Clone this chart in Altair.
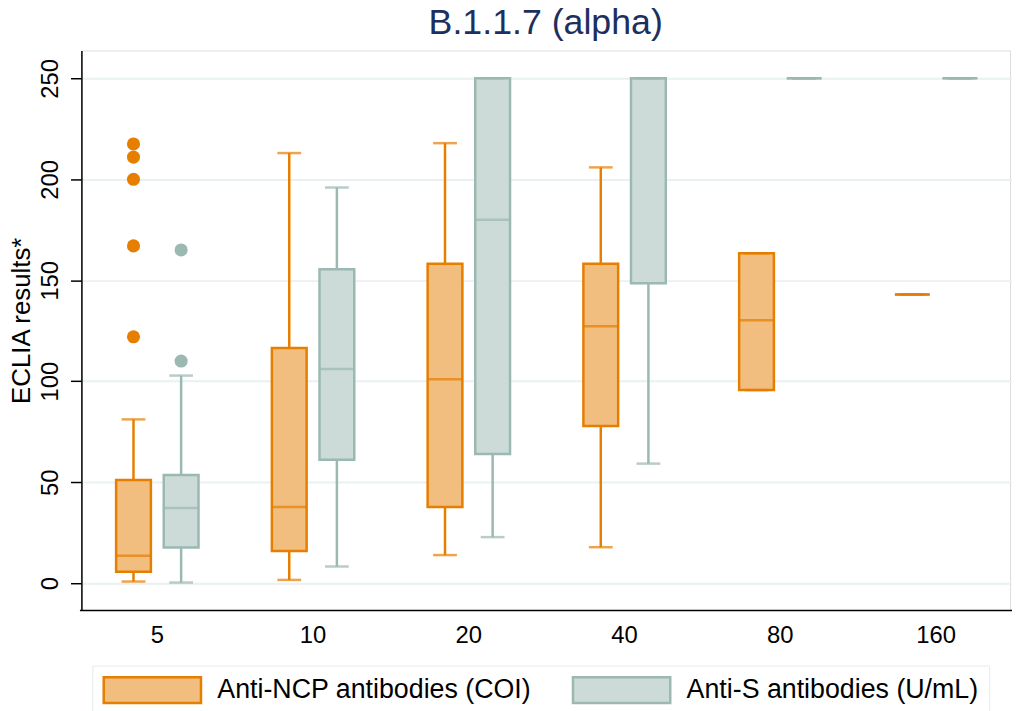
import altair as alt
import pandas as pd

# ---------------- data ----------------
groups = ["5", "10", "20", "40", "80", "160"]
series = ["Anti-NCP antibodies (COI)", "Anti-S antibodies (U/mL)"]
series_code = ["ncp", "s"]

ncp_low = [0.8, 1.6, 13.9, 17.8, 95.6, 143.0]
ncp_q1 = [5.7, 15.9, 37.7, 77.8, 95.6, 143.0]
ncp_median = [13.6, 37.7, 101.0, 127.2, 130.2, 143.0]
ncp_q3 = [51.1, 116.4, 158.2, 158.2, 163.4, 143.0]
ncp_high = [81.1, 213.0, 217.9, 205.9, 163.4, 143.0]

s_low = [0.3, 8.2, 22.8, 59.2, 250.0, 250.0]
s_q1 = [17.7, 61.1, 64.0, 148.5, 250.0, 250.0]
s_median = [37.2, 106.0, 180.0, 250.0, 250.0, 250.0]
s_q3 = [53.6, 155.4, 250.0, 250.0, 250.0, 250.0]
s_high = [102.8, 195.9, 250.0, 250.0, 250.0, 250.0]

ncp_outlier_group = ["5", "5", "5", "5", "5"]
ncp_outliers = [217.5, 211.0, 200.0, 167.0, 122.0]
s_outlier_group = ["5", "5"]
s_outliers = [165.0, 110.0]

y_ticks = [0, 50, 100, 150, 200, 250]

# ---------------- tables ----------------
rows = []
for name, code, lo, q1, md, q3, hi in [
    (series[0], series_code[0], ncp_low, ncp_q1, ncp_median, ncp_q3, ncp_high),
    (series[1], series_code[1], s_low, s_q1, s_median, s_q3, s_high),
]:
    for g, a, b, c, d, e in zip(groups, lo, q1, md, q3, hi):
        rows.append(dict(group=g, series=name, code=code,
                         low=a, q1=b, median=c, q3=d, high=e))
box = pd.DataFrame(rows)

orows = []
for name, code, gs, vals in [(series[0], series_code[0], ncp_outlier_group, ncp_outliers),
                             (series[1], series_code[1], s_outlier_group, s_outliers)]:
    for g, v in zip(gs, vals):
        orows.append(dict(group=g, series=name, code=code, value=v))
outl = pd.DataFrame(orows)

# ---------------- styling ----------------
FONT = "Liberation Sans"
dark = ["#E67E00", "#9BB8B1"]
light = ["#F2BE7F", "#CDDBD8"]
LW = 2.5

x_enc = alt.X(
    "group:N", sort=groups,
    scale=alt.Scale(domain=groups, range=[-2, 940], paddingInner=0, paddingOuter=0),
    axis=alt.Axis(title=None, ticks=False, labelAngle=0, labelFontSize=24,
                  labelPadding=14, labelColor="black", domainColor="black",
                  domainWidth=1.5, grid=False, labelFont=FONT),
)
xo_enc = alt.XOffset("series:N", sort=series,
                     scale=alt.Scale(domain=series, paddingInner=0.27, paddingOuter=0.77))
y_scale = alt.Scale(domain=[-13.3, 263.8], nice=False, zero=False)
y_axis = alt.Axis(values=y_ticks, title="ECLIA results*", labelAngle=270,
                  labelAlign="center", labelBaseline="bottom", labelFontSize=24,
                  labelPadding=8, labelColor="black", tickSize=11, tickColor="black",
                  tickWidth=1.5, domainColor="black", domainWidth=1.5, grid=True,
                  gridColor="#E9F1F3", gridWidth=2, titleFontSize=26,
                  titleFontWeight="normal", titleColor="black",
                  titleAngle=270, titleAlign="center", titleBaseline="alphabetic",
                  titleX=-52, titleY=272,
                  labelFont=FONT, titleFont=FONT)

# separate colour scale (own domain) for lines/points, no legend
col = alt.Color("code:N", scale=alt.Scale(domain=series_code, range=dark), legend=None)

base = alt.Chart(box)

whisk_lo = base.mark_rule(strokeWidth=LW).encode(
    x=x_enc, xOffset=xo_enc,
    y=alt.Y("low:Q", scale=y_scale, axis=y_axis), y2="q1:Q", color=col)
whisk_hi = base.mark_rule(strokeWidth=LW).encode(
    x=x_enc, xOffset=xo_enc, y=alt.Y("q3:Q", scale=y_scale, axis=y_axis), y2="high:Q", color=col)

legend = alt.Legend(
    title=None, orient="none", legendX=11, legendY=620, direction="horizontal",
    symbolType="M-3.77,-1H3.77V1H-3.77Z", symbolSize=676, symbolStrokeWidth=LW,
    symbolOffset=36, labelFontSize=27, labelOffset=51, columnPadding=36, padding=10,
    strokeColor="#E3EBED", fillColor="white", labelFont=FONT, labelColor="black",
    labelLimit=1000,
)

bars = base.mark_bar(strokeWidth=LW).encode(
    x=x_enc, xOffset=xo_enc,
    y=alt.Y("q1:Q", scale=y_scale, axis=y_axis), y2="q3:Q",
    fill=alt.Fill("series:N", scale=alt.Scale(domain=series, range=light), legend=legend),
    stroke=alt.Stroke("series:N", scale=alt.Scale(domain=series, range=dark), legend=legend),
)

medians = base.mark_tick(size=35, thickness=LW).encode(
    x=x_enc, xOffset=xo_enc, y=alt.Y("median:Q", scale=y_scale, axis=y_axis), color=col)
cap_lo = base.mark_tick(size=24, thickness=LW).encode(
    x=x_enc, xOffset=xo_enc, y=alt.Y("low:Q", scale=y_scale, axis=y_axis), color=col)
cap_hi = base.mark_tick(size=24, thickness=LW).encode(
    x=x_enc, xOffset=xo_enc, y=alt.Y("high:Q", scale=y_scale, axis=y_axis), color=col)

points = alt.Chart(outl).mark_circle(size=175, opacity=1).encode(
    x=x_enc, xOffset=xo_enc, y=alt.Y("value:Q", scale=y_scale, axis=y_axis), color=col)

chart = alt.layer(whisk_lo, whisk_hi, bars, medians, cap_lo, cap_hi, points).properties(
    width=936, height=564,
    autosize=alt.AutoSizeParams(type="none"),
    padding={"left": 74, "top": 40, "right": 2, "bottom": 99},
    title=alt.TitleParams("B.1.1.7 (alpha)", fontSize=36, font=FONT, fontWeight="normal",
                          color="#1D2F5E", anchor="middle", offset=9),
).configure_view(strokeWidth=0).configure(font=FONT)

chart.save("out.html", embed_options={"renderer": "svg", "actions": False})
